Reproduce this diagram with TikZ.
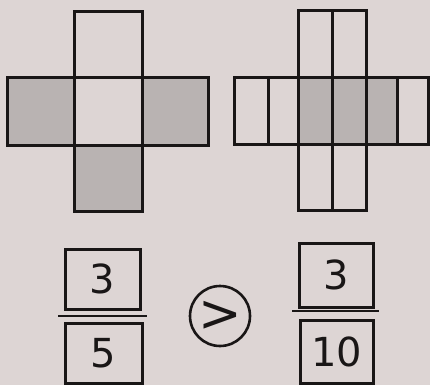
\documentclass[tikz,border=0pt]{standalone}
\usepackage{fontspec}
\setmainfont{DejaVu Sans}
\definecolor{bgc}{RGB}{221,213,212}
\definecolor{shadec}{RGB}{185,179,178}
\definecolor{inkc}{RGB}{25,22,22}
\tikzset{
  net/.style={draw=inkc, line width=3pt, line join=miter},
  shaded/.style={fill=shadec},
  numbox/.style={draw=inkc, line width=3pt, inner sep=0pt, font=\fontsize{40}{40}\selectfont\color{inkc}},
  fracline/.style={draw=inkc, line width=2.6pt},
}
\begin{document}
\begin{tikzpicture}[x=1pt,y=-1pt]
\fill[bgc] (0,0) rectangle (430,385);
\useasboundingbox (0,0) rectangle (430,385);
% left net: 3/5 shaded
\fill[shaded] (7,78) rectangle (74,145);
\fill[shaded] (142,78) rectangle (208,145);
\fill[shaded] (74,145) rectangle (142,211);
\draw[net] (74,12) rectangle (142,211);
\draw[net] (7,78) rectangle (208,145);
% right net: 3/10 shaded
\fill[shaded] (298,78) rectangle (397,144);
\draw[net] (298,11) rectangle (366,210);
\draw[net] (234,78) rectangle (428,144);
\draw[net] (332,11) -- (332,210);
\draw[net] (268,78) -- (268,144);
\draw[net] (397,78) -- (397,144);
% fractions
\node[numbox, minimum width=75pt, minimum height=60pt] (n1) at (102.5,279) {3};
\node[numbox, minimum width=77pt, minimum height=60pt] (d1) at (103.5,353) {5};
\coordinate (l1a) at (58,316);
\coordinate (l1b) at (147,316);
\draw[fracline] (l1a) -- (l1b);
\node[circle, draw=inkc, line width=2.6pt, minimum size=60pt, inner sep=0pt, font=\fontsize{52}{52}\selectfont\color{inkc}] (cmp) at (220,316) {\raisebox{-3pt}{>}};
\node[numbox, minimum width=74pt, minimum height=64pt] (n2) at (336,275) {3};
\coordinate (l2a) at (292,311);
\coordinate (l2b) at (379,311);
\draw[fracline] (l2a) -- (l2b);
\node[numbox, minimum width=73pt, minimum height=63pt] (d2) at (336.5,352) {10};
\end{tikzpicture}
\end{document}
